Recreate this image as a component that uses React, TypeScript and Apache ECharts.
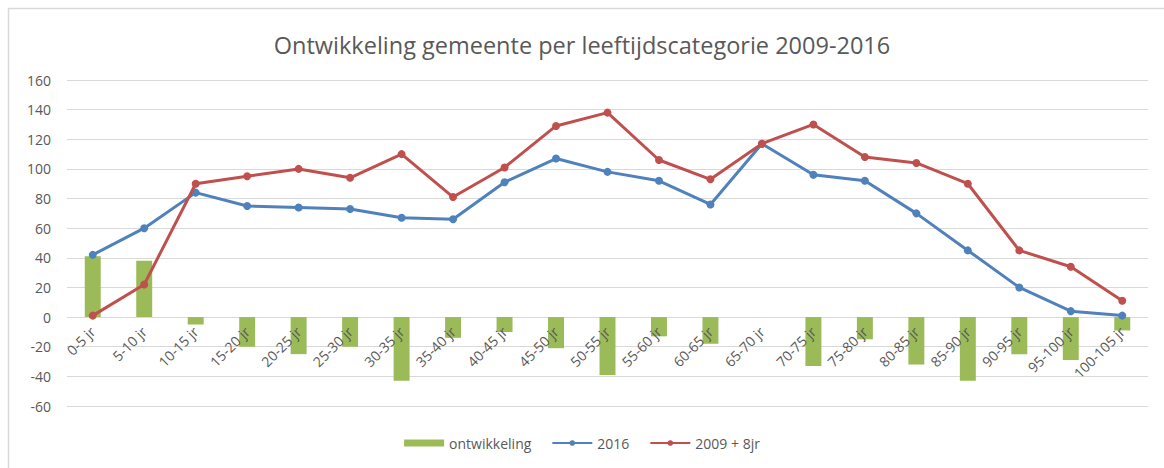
import React, { useEffect, useRef } from "react";
import * as echarts from "echarts";

const categories = [
  "0-5 jr", "5-10 jr", "10-15 jr", "15-20 jr", "20-25 jr", "25-30 jr", "30-35 jr",
  "35-40 jr", "40-45 jr", "45-50 jr", "50-55 jr", "55-60 jr", "60-65 jr", "65-70 jr",
  "70-75 jr", "75-80 jr", "80-85 jr", "85-90 jr", "90-95 jr", "95-100 jr", "100-105 jr",
];
const ontwikkeling = [41, 38, -5, -20, -25, -20, -43, -14, -10, -21, -39, -13, -18, 0, -33, -15, -32, -43, -25, -29, -9];
const values2016 = [42, 60, 84, 75, 74, 73, 67, 66, 91, 107, 98, 92, 76, 117, 96, 92, 70, 45, 20, 4, 1];
const values2009plus8 = [1, 22, 90, 95, 100, 94, 110, 81, 101, 129, 138, 106, 93, 117, 130, 108, 104, 90, 45, 34, 11];
const yTicks = { min: -60, max: 160, step: 20 };

const TEXT = "#595959";
const FONT = "'Open Sans', sans-serif";

export default function App() {
  const ref = useRef<HTMLDivElement>(null);
  useEffect(() => {
    const chart = echarts.init(ref.current!, undefined, { renderer: "svg" });
    const gridTop = 80;
    const gridBottom = 62;
    const plotH = 468 - gridTop - gridBottom;
    const zeroOffset = (plotH * (0 - yTicks.min)) / (yTicks.max - yTicks.min);
    chart.setOption({
      animation: false,
      backgroundColor: "#ffffff",
      textStyle: { fontFamily: FONT },
      title: {
        text: "Ontwikkeling gemeente per leeftijdscategorie 2009-2016",
        left: "center",
        top: 28,
        textStyle: { color: TEXT, fontSize: 23.5, fontWeight: "normal", fontFamily: FONT },
      },
      graphic: [
        {
          type: "rect",
          shape: { x: 8.5, y: 8.5, width: 1170, height: 470 },
          style: { fill: "none", stroke: "#d9d9d9", lineWidth: 1.5 },
          silent: true,
        },
      ],
      legend: {
        bottom: 13,
        left: "center",
        itemGap: 20,
        itemWidth: 40,
        itemHeight: 7,
        textStyle: { color: TEXT, fontSize: 14, fontFamily: FONT },
        data: [
          { name: "ontwikkeling", icon: "rect" },
          { name: "2016" },
          { name: "2009 + 8jr" },
        ],
      },
      grid: { left: 67, right: 16, top: gridTop, bottom: gridBottom },
      xAxis: {
        type: "category",
        data: categories,
        position: "bottom",
        offset: -zeroOffset,
        z: 5,
        axisLine: { show: false, onZero: false },
        axisTick: { show: false },
        axisLabel: { rotate: 45, color: TEXT, fontSize: 14, margin: 12, interval: 0, fontFamily: FONT },
      },
      yAxis: {
        type: "value",
        min: yTicks.min,
        max: yTicks.max,
        interval: yTicks.step,
        axisLine: { show: false },
        axisTick: { show: false },
        axisLabel: { color: TEXT, fontSize: 14, margin: 16, fontFamily: FONT },
        splitLine: { lineStyle: { color: "#d9d9d9", width: 1 } },
      },
      series: [
        {
          name: "ontwikkeling",
          type: "bar",
          data: ontwikkeling,
          barWidth: "31%",
          z: 2,
          itemStyle: { color: "#9BBB59" },
        },
        {
          name: "2016",
          type: "line",
          data: values2016,
          symbol: "circle",
          symbolSize: 8,
          z: 6,
          itemStyle: { color: "#4F81BD" },
          lineStyle: { color: "#4F81BD", width: 3 },
        },
        {
          name: "2009 + 8jr",
          type: "line",
          data: values2009plus8,
          symbol: "circle",
          symbolSize: 8,
          z: 7,
          itemStyle: { color: "#C0504D" },
          lineStyle: { color: "#C0504D", width: 3 },
        },
      ],
    });
    return () => chart.dispose();
  }, []);
  return (
    <div
      ref={ref}
      style={{ position: "fixed", left: 0, top: 0, width: 1164, height: 468 }}
    />
  );
}
